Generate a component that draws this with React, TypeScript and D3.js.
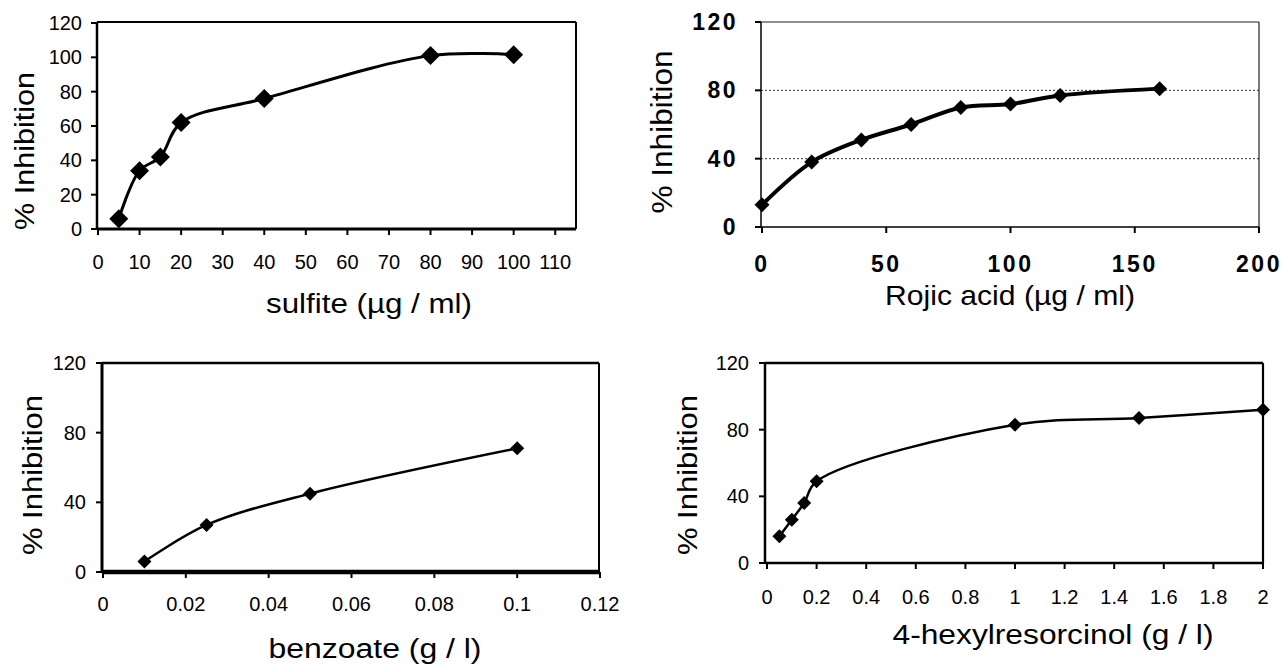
import React from "react";
import * as d3 from "d3";

// ---------- data ----------
const sulfiteX = [5, 10, 15, 20, 40, 80, 100];
const sulfiteY = [6, 34, 42, 62, 76, 101, 101.5];
const sulfiteTicksX = [0, 10, 20, 30, 40, 50, 60, 70, 80, 90, 100, 110];
const sulfiteTicksY = [0, 20, 40, 60, 80, 100, 120];

const kojicX = [0, 20, 40, 60, 80, 100, 120, 160];
const kojicY = [13, 38, 51, 60, 70, 72, 77, 81];
const kojicTicksX = [0, 50, 100, 150, 200];
const kojicTicksY = [0, 40, 80, 120];
const kojicGrid = [40, 80];

const benzoateX = [0.01, 0.025, 0.05, 0.1];
const benzoateY = [6, 27, 45, 71];
const benzoateTicksX = [0, 0.02, 0.04, 0.06, 0.08, 0.1, 0.12];
const benzoateTicksY = [0, 40, 80, 120];

const hexylX = [0.05, 0.1, 0.15, 0.2, 1, 1.5, 2];
const hexylY = [16, 26, 36, 49, 83, 87, 92];
const hexylTicksX = [0, 0.2, 0.4, 0.6, 0.8, 1, 1.2, 1.4, 1.6, 1.8, 2];
const hexylTicksY = [0, 40, 80, 120];

const yTitle = "% Inhibition";
const xTitles = ["sulfite (µg / ml)", "Rojic acid (µg / ml)", "benzoate (g / l)", "4-hexylresorcinol (g / l)"];

const FONT = "'Liberation Sans', Arial, Helvetica, sans-serif";

type PanelCfg = {
  xs: number[]; ys: number[]; ticksX: number[]; ticksY: number[]; grid?: number[];
  xDomain: [number, number]; xRange: [number, number];
  yDomain: [number, number]; yRange: [number, number];
  box: { l: number; t: number; r: number; b: number };
  frame: { l: number; t: number; r: number; b: number; color: string };
  lineW: number; marker: number;
  tickFont: number; tickBold?: boolean; tickSpacing?: number;
  xLabelY: number; yLabelX: number;
  xTitle: string; xTitleX: number; xTitleY: number; xTitleLen: number; xTitleFont: number;
  yTitleX: number; yTitleY: number; yTitleLen: number; yTitleFont: number;
};

const panels: PanelCfg[] = [
  {
    xs: sulfiteX, ys: sulfiteY, ticksX: sulfiteTicksX, ticksY: sulfiteTicksY,
    xDomain: [0, 115], xRange: [98, 576], yDomain: [0, 120], yRange: [229, 23],
    box: { l: 97, t: 22, r: 576, b: 229 },
    frame: { l: 2.5, t: 2, r: 2, b: 3, color: "#000" },
    lineW: 3, marker: 9.5, tickFont: 20,
    xLabelY: 269, yLabelX: 82,
    xTitle: xTitles[0], xTitleX: 369, xTitleY: 313, xTitleLen: 206, xTitleFont: 27,
    yTitleX: 34, yTitleY: 151, yTitleLen: 158, yTitleFont: 27,
  },
  {
    xs: kojicX, ys: kojicY, ticksX: kojicTicksX, ticksY: kojicTicksY, grid: kojicGrid,
    xDomain: [0, 200], xRange: [762, 1259], yDomain: [0, 120], yRange: [227, 22],
    box: { l: 761, t: 22, r: 1259, b: 227 },
    frame: { l: 1.5, t: 1.2, r: 1.2, b: 1.5, color: "#222" },
    lineW: 4, marker: 7.5, tickFont: 23, tickBold: true, tickSpacing: 2.5,
    xLabelY: 272, yLabelX: 738,
    xTitle: xTitles[1], xTitleX: 1010, xTitleY: 305, xTitleLen: 250, xTitleFont: 28,
    yTitleX: 672, yTitleY: 132, yTitleLen: 163, yTitleFont: 29,
  },
  {
    xs: benzoateX, ys: benzoateY, ticksX: benzoateTicksX, ticksY: benzoateTicksY,
    xDomain: [0, 0.12], xRange: [103, 600], yDomain: [0, 120], yRange: [572, 363],
    box: { l: 102, t: 363, r: 599, b: 572 },
    frame: { l: 3, t: 2.5, r: 2, b: 4.5, color: "#000" },
    lineW: 2.5, marker: 7, tickFont: 20,
    xLabelY: 611, yLabelX: 86,
    xTitle: xTitles[2], xTitleX: 375, xTitleY: 658, xTitleLen: 213, xTitleFont: 27,
    yTitleX: 42, yTitleY: 475, yTitleLen: 160, yTitleFont: 27,
  },
  {
    xs: hexylX, ys: hexylY, ticksX: hexylTicksX, ticksY: hexylTicksY,
    xDomain: [0, 2], xRange: [767, 1263], yDomain: [0, 120], yRange: [563, 363],
    box: { l: 765, t: 363, r: 1263, b: 563 },
    frame: { l: 2.5, t: 2.5, r: 2.2, b: 2.5, color: "#000" },
    lineW: 2.5, marker: 7, tickFont: 20,
    xLabelY: 604, yLabelX: 749,
    xTitle: xTitles[3], xTitleX: 1053, xTitleY: 644, xTitleLen: 321, xTitleFont: 27,
    yTitleX: 697, yTitleY: 475, yTitleLen: 160, yTitleFont: 27,
  },
];

function fmt(v: number) {
  return String(+v.toFixed(4));
}

function Panel({ c }: { c: PanelCfg }) {
  const x = d3.scaleLinear().domain(c.xDomain).range(c.xRange);
  const y = d3.scaleLinear().domain(c.yDomain).range(c.yRange);
  const pts = c.xs.map((v, i) => [x(v), y(c.ys[i])] as [number, number]);
  const line = d3.line<[number, number]>().curve(d3.curveCatmullRom.alpha(0.5));
  const { l, t, r, b } = c.box;
  const f = c.frame;
  const diamond = (px: number, py: number, s: number) =>
    `M${px},${py - s}L${px + s},${py}L${px},${py + s}L${px - s},${py}Z`;
  return (
    <g>
      {c.grid && c.grid.map((g) => (
        <line key={"g" + g} x1={l} x2={r} y1={y(g)} y2={y(g)} stroke="#333" strokeWidth={1} strokeDasharray="2,2" />
      ))}
      {/* frame */}
      <line x1={l} x2={r} y1={t} y2={t} stroke={f.color} strokeWidth={f.t} />
      <line x1={r} x2={r} y1={t} y2={b} stroke={f.color} strokeWidth={f.r} />
      <line x1={l} x2={r} y1={b} y2={b} stroke="#000" strokeWidth={f.b} />
      <line x1={l} x2={l} y1={t} y2={b} stroke="#000" strokeWidth={f.l} />
      {/* ticks */}
      {c.ticksX.map((v) => (
        <line key={"tx" + v} x1={x(v)} x2={x(v)} y1={b} y2={b + 6} stroke="#000" strokeWidth={2} />
      ))}
      {c.ticksY.map((v) => (
        <line key={"ty" + v} x1={l - 6} x2={l} y1={y(v)} y2={y(v)} stroke="#000" strokeWidth={2} />
      ))}
      {c.ticksX.map((v) => (
        <text key={"lx" + v} x={x(v)} y={c.xLabelY} textAnchor="middle" fontSize={c.tickFont}
          fontWeight={c.tickBold ? "bold" : "normal"} letterSpacing={c.tickSpacing || 0} fontFamily={FONT} fill="#000">
          {fmt(v)}
        </text>
      ))}
      {c.ticksY.map((v) => (
        <text key={"ly" + v} x={c.yLabelX} y={y(v)} textAnchor="end" dominantBaseline="central" fontSize={c.tickFont}
          fontWeight={c.tickBold ? "bold" : "normal"} letterSpacing={c.tickSpacing || 0} fontFamily={FONT} fill="#000">
          {fmt(v)}
        </text>
      ))}
      {/* series */}
      <path d={line(pts) || ""} fill="none" stroke="#000" strokeWidth={c.lineW} strokeLinejoin="round" />
      {pts.map(([px, py], i) => (
        <path key={"m" + i} d={diamond(px, py, c.marker)} fill="#000" />
      ))}
      {/* titles */}
      <text x={c.xTitleX} y={c.xTitleY} textAnchor="middle" fontSize={c.xTitleFont} fontFamily={FONT}
        textLength={c.xTitleLen} lengthAdjust="spacingAndGlyphs" fill="#000">
        {c.xTitle}
      </text>
      <text transform={`translate(${c.yTitleX},${c.yTitleY}) rotate(-90)`} x={0} y={0} textAnchor="middle"
        fontSize={c.yTitleFont} fontFamily={FONT} textLength={c.yTitleLen} lengthAdjust="spacingAndGlyphs" fill="#000">
        {yTitle}
      </text>
    </g>
  );
}

export default function App() {
  return (
    <svg width={1284} height={666} viewBox="0 0 1284 666"
      style={{ position: "absolute", left: 0, top: 0, background: "#fff" }}>
      <rect x={0} y={0} width={1284} height={666} fill="#fff" />
      {panels.map((c, i) => (
        <Panel key={i} c={c} />
      ))}
    </svg>
  );
}
